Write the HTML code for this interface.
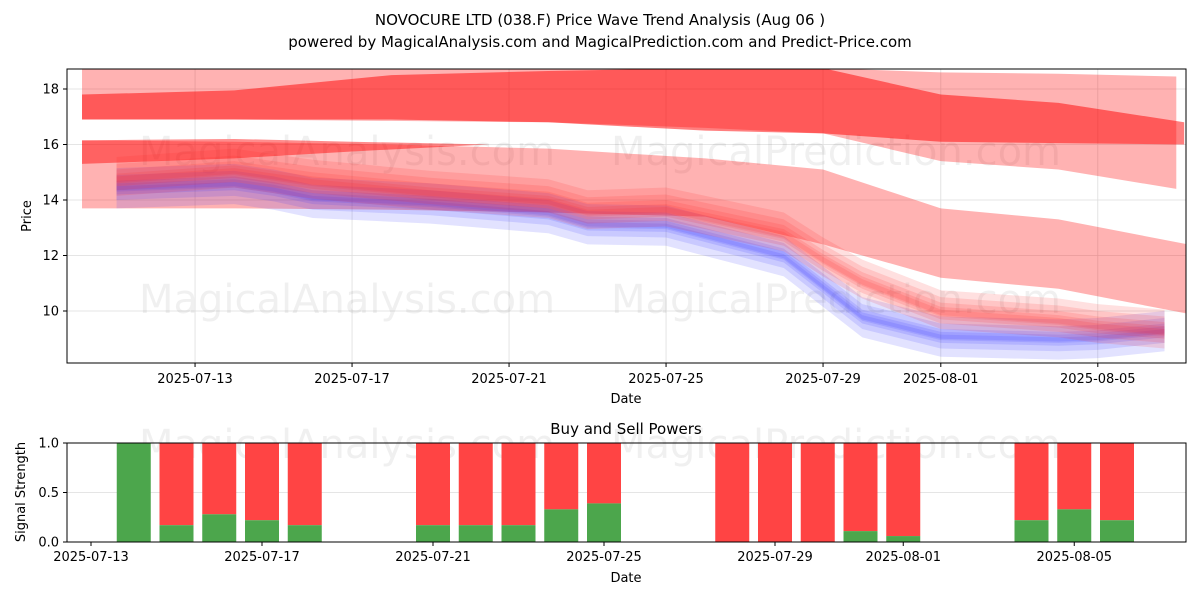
<!DOCTYPE html>
<html><head><meta charset="utf-8"><style>
body{margin:0;background:#fff;}
svg{display:block;font-family:"DejaVu Sans","Liberation Sans",sans-serif;}
</style></head><body>
<svg id="chart" width="1200" height="600" viewBox="0 0 1200 600" xmlns="http://www.w3.org/2000/svg">
<text x="600" y="25" font-size="15" text-anchor="middle">NOVOCURE LTD (038.F) Price Wave Trend Analysis (Aug 06 )</text>
<text x="600" y="47" font-size="15" text-anchor="middle">powered by MagicalAnalysis.com and MagicalPrediction.com and Predict-Price.com</text>
<g id="topPanel"></g>
<g id="botPanel"></g>
</svg>
<script>
// ---- price panel data ----
const priceTicks = [10, 12, 14, 16, 18];
const priceDateTicks = ["2025-07-13","2025-07-17","2025-07-21","2025-07-25","2025-07-29","2025-08-01","2025-08-05"];
const priceDateTickDays = [3, 7, 11, 15, 19, 22, 26];
const wideLightDays = [0.12, 4, 8, 12, 16, 19, 22, 25, 28];
const wideLight1Upper = [19.5, 19.5, 19.5, 19.5, 19.5, 18.75, 18.6, 18.55, 18.45];
const wideLight1Lower = [16.9, 16.9, 16.85, 16.8, 16.6, 16.4, 15.4, 15.1, 14.4];
const wideDarkDays = [0.12, 4, 8, 12, 16, 19, 22, 25, 28.2];
const wideDarkUpper = [17.8, 17.95, 18.5, 18.65, 18.75, 18.75, 17.8, 17.5, 16.8];
const wideDarkLower = [16.9, 16.9, 16.9, 16.8, 16.5, 16.4, 16.1, 16.05, 16.0];
const leftDarkDays = [0.12, 4, 7, 10.5];
const leftDarkUpper = [16.15, 16.2, 16.1, 16.0];
const leftDarkLower = [15.3, 15.5, 15.75, 16.0];
const wideLight2Days = [0.12, 4, 8, 12, 16, 19, 22, 25, 28.3];
const wideLight2Upper = [16.15, 16.1, 16.0, 15.85, 15.5, 15.1, 13.7, 13.3, 12.4];
const wideLight2Lower = [13.7, 13.7, 13.65, 13.55, 13.4, 12.4, 11.2, 10.8, 9.9];
const bandDays = [1, 4, 5, 6, 9, 12, 13, 15, 18, 19, 20, 22, 25, 26, 27.7];
const blueCenter = [14.45, 14.6, 14.4, 14.1, 13.9, 13.55, 13.15, 13.1, 12.0, 10.9, 9.8, 9.1, 9.0, 9.05, 9.3];
const redCenter = [14.6, 14.9, 14.7, 14.5, 14.1, 13.8, 13.4, 13.5, 12.6, 11.7, 10.9, 9.8, 9.5, 9.3, 9.1];
const blueOffsets = [-0.35, -0.15, 0, 0.15, 0.3];
const blueHalfWidths = [0.4, 0.3, 0.25, 0.3, 0.4];
const redOffsets = [-0.1, 0.05, 0.2, 0.35, 0.5];
const redHalfWidths = [0.35, 0.3, 0.3, 0.35, 0.45];
// ---- signal panel data ----
const sigDays = ["07-14","07-15","07-16","07-17","07-18","07-21","07-22","07-23","07-24","07-25","07-28","07-29","07-30","07-31","08-01","08-04","08-05","08-06"];
const sigDayIdx = [1,2,3,4,5,8,9,10,11,12,15,16,17,18,19,22,23,24];
const buyPower = [1.0,0.17,0.28,0.22,0.17,0.17,0.17,0.17,0.33,0.39,0,0,0,0.11,0.06,0.22,0.33,0.22];
const sigTicks = [0, 0.5, 1.0];
const sigDateTicks = ["2025-07-13","2025-07-17","2025-07-21","2025-07-25","2025-07-29","2025-08-01","2025-08-05"];
const sigDateTickIdx = [0, 4, 8, 12, 16, 19, 23];

const NS = "http://www.w3.org/2000/svg";
function mk(tag, attrs, parent){const e=document.createElementNS(NS,tag);for(const k in attrs)e.setAttribute(k,attrs[k]);parent.appendChild(e);return e;}
const topG=document.getElementById('topPanel'), botG=document.getElementById('botPanel');
const PL=67,PR=1186,PT=69,PB=363;
const px=d=>77.3+d*39.25;
const py=v=>89+(18-v)*27.75;
const defs=mk('defs',{},topG);
const cp=mk('clipPath',{id:'cpTop'},defs);
mk('rect',{x:PL,y:PT,width:PR-PL,height:PB-PT},cp);
priceTicks.forEach(v=>{const l=mk('line',{x1:PL,x2:PR,y1:py(v),y2:py(v),stroke:'#ddd','stroke-width':0.8},topG);

});
priceDateTickDays.forEach(d=>{const l=mk('line',{x1:px(d),x2:px(d),y1:PT,y2:PB,stroke:'#ddd','stroke-width':0.8},topG);

});
[[347,165,'MagicalAnalysis.com'],[836,165,'MagicalPrediction.com'],[347,313,'MagicalAnalysis.com'],[836,313,'MagicalPrediction.com']].forEach(w=>{
const t=mk('text',{x:w[0],y:w[1],'font-size':40,'text-anchor':'middle',fill:'#000','fill-opacity':0.06},topG);t.textContent=w[2];

});
const g=mk('g',{'clip-path':'url(#cpTop)'},topG);
function band(days,up,lo,color,op,name){
 let pts=days.map((d,i)=>px(d)+','+py(up[i]));
 for(let i=days.length-1;i>=0;i--)pts.push(px(days[i])+','+py(lo[i]));
 const p=mk('polygon',{points:pts.join(' '),fill:color,'fill-opacity':op},g);
 
 
}
band(wideLightDays,wideLight1Upper,wideLight1Lower,'#ff0000',0.3,'wave-band-upper-light');
band(wideLight2Days,wideLight2Upper,wideLight2Lower,'#ff0000',0.3,'wave-band-lower-light');
band(wideDarkDays,wideDarkUpper,wideDarkLower,'#ff0000',0.5,'wave-band-upper-dark');
band(leftDarkDays,leftDarkUpper,leftDarkLower,'#ff0000',0.45,'wave-band-left-dark');
blueOffsets.forEach((o,k)=>{band(bandDays,blueCenter.map(c=>c+o+blueHalfWidths[k]),blueCenter.map(c=>c+o-blueHalfWidths[k]),'#3030ff',0.14,'blue-wave-band');});
redOffsets.forEach((o,k)=>{band(bandDays,redCenter.map(c=>c+o+redHalfWidths[k]),redCenter.map(c=>c+o-redHalfWidths[k]),'#ff2020',0.14,'red-wave-band');});
mk('rect',{x:PL,y:PT,width:PR-PL,height:PB-PT,fill:'none',stroke:'#000','stroke-width':1},topG);
priceTicks.forEach(v=>{mk('line',{x1:PL-4,x2:PL,y1:py(v),y2:py(v),stroke:'#000'},topG);
const t=mk('text',{x:PL-8,y:py(v)+4.5,'font-size':13,'text-anchor':'end'},topG);t.textContent=v;

});
priceDateTickDays.forEach((d,i)=>{mk('line',{x1:px(d),x2:px(d),y1:PB,y2:PB+4,stroke:'#000'},topG);
const t=mk('text',{x:px(d),y:PB+20,'font-size':13,'text-anchor':'middle'},topG);t.textContent=priceDateTicks[i];

});
let t=mk('text',{x:626,y:403,'font-size':13,'text-anchor':'middle'},topG);t.textContent='Date';


t=mk('text',{x:0,y:0,'font-size':13,'text-anchor':'middle',transform:'translate(31,216) rotate(-90)'},topG);t.textContent='Price';



const BT=443,BB=542;
const bx=i=>91+i*42.75;
const by=v=>BB-v*(BB-BT);
sigTicks.forEach(v=>{mk('line',{x1:PL,x2:PR,y1:by(v),y2:by(v),stroke:'#ddd','stroke-width':0.8},botG);});
[[347,458,'MagicalAnalysis.com'],[836,458,'MagicalPrediction.com']].forEach(w=>{
const tt=mk('text',{x:w[0],y:w[1],'font-size':40,'text-anchor':'middle',fill:'#000','fill-opacity':0.06},botG);tt.textContent=w[2];

});
sigDayIdx.forEach((d,i)=>{
 const x=bx(d)-17,b=buyPower[i];
 const r=mk('rect',{x:x,y:by(1),width:34,height:by(b)-by(1),fill:'#ff4444'},botG);
 
 
 const gr=mk('rect',{x:x,y:by(b),width:34,height:BB-by(b),fill:'#4ca64c'},botG);
 
 
});
mk('rect',{x:PL,y:BT,width:PR-PL,height:BB-BT,fill:'none',stroke:'#000','stroke-width':1},botG);
sigTicks.forEach(v=>{mk('line',{x1:PL-4,x2:PL,y1:by(v),y2:by(v),stroke:'#000'},botG);
const tt=mk('text',{x:PL-8,y:by(v)+4.5,'font-size':13,'text-anchor':'end'},botG);tt.textContent=v.toFixed(1);

});
sigDateTickIdx.forEach((d,i)=>{mk('line',{x1:bx(d),x2:bx(d),y1:BB,y2:BB+4,stroke:'#000'},botG);
const tt=mk('text',{x:bx(d),y:BB+19,'font-size':13,'text-anchor':'middle'},botG);tt.textContent=sigDateTicks[i];

});
t=mk('text',{x:626,y:434,'font-size':15,'text-anchor':'middle'},botG);t.textContent='Buy and Sell Powers';


t=mk('text',{x:626,y:582,'font-size':13,'text-anchor':'middle'},botG);t.textContent='Date';


t=mk('text',{x:0,y:0,'font-size':13,'text-anchor':'middle',transform:'translate(25,492) rotate(-90)'},botG);t.textContent='Signal Strength';


</script>
</body></html>
